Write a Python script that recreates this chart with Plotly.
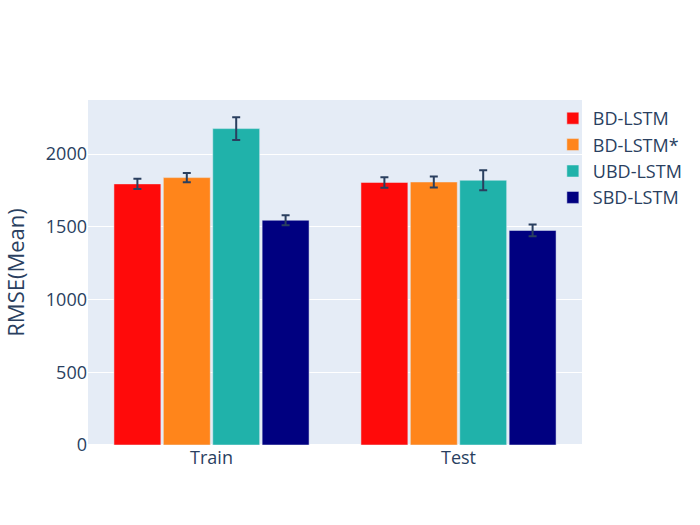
import plotly.graph_objects as go

categories = ["Train", "Test"]
models = ["BD-LSTM", "BD-LSTM*", "UBD-LSTM", "SBD-LSTM"]
means = {
    "BD-LSTM": [1795, 1805],
    "BD-LSTM*": [1838, 1808],
    "UBD-LSTM": [2175, 1820],
    "SBD-LSTM": [1545, 1475],
}
errors = {
    "BD-LSTM": [35, 36],
    "BD-LSTM*": [31, 38],
    "UBD-LSTM": [78, 68],
    "SBD-LSTM": [35, 40],
}
colors = ["#ff0a0a", "#ff851b", "#20b2aa", "#000080"]

fig = go.Figure()
for m, c in zip(models, colors):
    fig.add_trace(go.Bar(
        name=m, x=categories, y=means[m],
        error_y=dict(type="data", array=errors[m], visible=True),
        marker_color=c,
    ))

fig.update_layout(
    width=700, height=525,
    margin=dict(l=88, r=118, t=100, b=80),
    barmode="group",
    bargap=0.2,
    bargroupgap=0.05,
    font=dict(family="Open Sans", size=18),
    legend=dict(x=0.941, y=1, xanchor="left", yanchor="top",
                bgcolor="rgba(0,0,0,0)"),
    yaxis=dict(title=dict(text="RMSE(Mean)")),
)
fig.write_html("out.html", config={"displayModeBar": False},
               post_script="document.body.style.margin='0';")
